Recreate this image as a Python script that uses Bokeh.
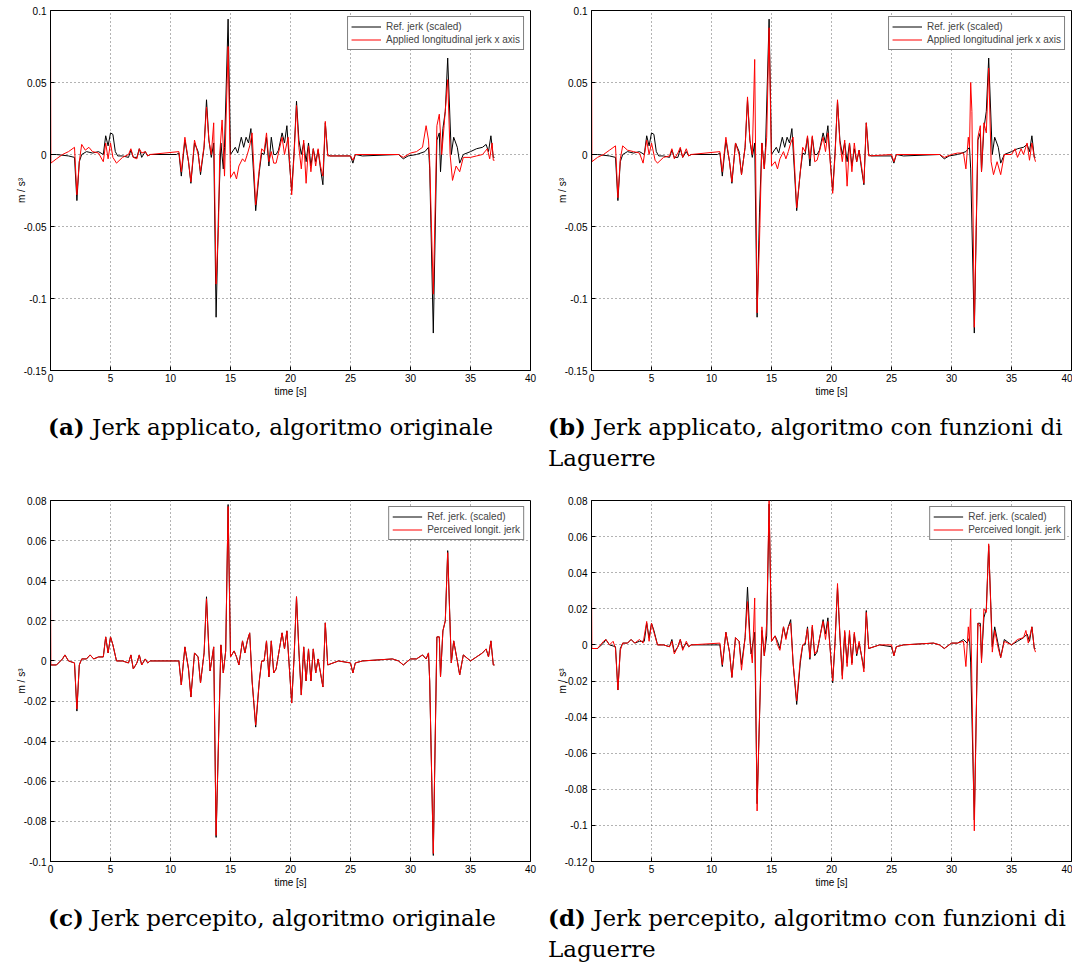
from bokeh.plotting import figure
from bokeh.models import Div, Legend, LegendItem, FixedTicker
from bokeh.layouts import column, row
from bokeh.embed import file_html
from bokeh.resources import INLINE

# ---------------- data (time [s], jerk [m/s^3]) ----------------
REF_TOP = [
    (0.0, 0.0), (0.5, 0.0), (1.5, -0.001), (2.0, -0.002), (2.2, -0.032), (2.4, -0.005), (2.6, 0.0),
    (3.0, 0.002), (3.5, 0.001), (4.0, 0.002), (4.4, 0.0), (4.6, 0.013), (4.8, 0.006), (5.0, 0.015),
    (5.2, 0.014), (5.4, 0.002), (5.6, -0.001), (6.0, -0.001), (6.5, -0.002), (6.7, 0.003), (6.9, -0.002),
    (7.2, -0.002), (7.4, 0.004), (7.6, -0.002), (7.9, 0.002), (8.1, -0.001), (8.3, 0.0), (10.5, 0.0),
    (10.7, 0.001), (10.9, -0.015), (11.2, 0.010), (11.5, -0.005), (11.7, -0.020), (12.0, 0.008),
    (12.3, 0.002), (12.5, -0.014), (12.8, 0.005), (13.0, 0.038), (13.2, 0.010), (13.4, -0.002),
    (13.6, 0.008), (13.8, -0.113), (14.0, -0.040), (14.2, 0.008), (14.4, -0.010), (14.5, 0.005),
    (14.8, 0.094), (15.0, 0.0), (15.4, 0.005), (15.6, 0.001), (15.9, 0.012), (16.1, 0.005), (16.3, 0.012),
    (16.5, 0.008), (16.7, 0.018), (16.9, -0.010), (17.1, -0.039), (17.4, -0.012), (17.6, 0.001),
    (17.8, 0.0), (18.0, 0.012), (18.2, -0.008), (18.4, 0.012), (18.6, 0.0), (18.8, 0.0), (19.0, 0.003),
    (19.3, 0.015), (19.5, 0.008), (19.7, 0.020), (19.9, -0.005), (20.1, -0.025), (20.3, 0.002),
    (20.5, 0.037), (20.7, 0.010), (20.9, 0.0), (21.1, 0.008), (21.3, -0.005), (21.5, 0.008),
    (21.7, -0.008), (21.9, 0.004), (22.1, -0.005), (22.3, 0.003), (22.5, -0.010), (22.7, -0.021),
    (22.9, 0.022), (23.1, 0.0), (23.3, -0.001), (25.0, -0.001), (25.2, -0.006), (25.4, 0.0),
    (26.0, -0.001), (29.0, 0.0), (29.4, -0.003), (29.8, -0.001), (30.5, 0.0), (31.2, 0.002),
    (31.5, 0.005), (31.6, -0.010), (31.9, -0.124), (32.2, 0.010), (32.4, 0.015), (32.5, -0.012),
    (32.7, 0.018), (32.9, 0.030), (33.1, 0.067), (33.4, 0.0), (33.6, 0.012), (33.9, 0.005),
    (34.1, -0.006), (34.4, 0.0), (35.0, 0.002), (35.5, 0.004), (36.0, 0.005), (36.3, 0.007),
    (36.5, 0.002), (36.7, 0.013), (36.9, -0.002), (37.0, -0.002),
]

APPLIED_ORIG = [
    (0.0, 0.082), (0.03, -0.006), (0.5, -0.003), (1.0, 0.0), (1.5, 0.002), (2.0, 0.005), (2.2, -0.028),
    (2.4, -0.005), (2.6, 0.007), (2.9, 0.003), (3.2, 0.005), (3.5, 0.002), (4.0, 0.001), (4.4, -0.005),
    (4.6, 0.008), (4.8, -0.003), (5.0, 0.008), (5.2, -0.002), (5.5, -0.006), (6.0, -0.002), (6.5, 0.0),
    (6.7, 0.004), (6.9, -0.002), (7.2, -0.003), (7.4, 0.004), (7.6, 0.001), (7.9, 0.002), (8.1, -0.001),
    (8.3, 0.0), (10.7, 0.002), (10.9, -0.012), (11.2, 0.012), (11.5, -0.005), (11.7, -0.019),
    (12.0, 0.010), (12.3, 0.0), (12.5, -0.012), (12.8, 0.006), (13.0, 0.033), (13.2, 0.010), (13.4, 0.0),
    (13.6, 0.022), (13.8, -0.090), (14.0, -0.050), (14.1, 0.0), (14.3, 0.024), (14.5, -0.015),
    (14.8, 0.075), (15.0, -0.016), (15.3, -0.012), (15.5, -0.017), (15.7, -0.008), (16.0, -0.003),
    (16.2, -0.005), (16.4, 0.0), (16.6, 0.006), (16.8, 0.015), (17.1, -0.035), (17.4, -0.010),
    (17.6, 0.004), (17.8, 0.002), (18.0, 0.015), (18.2, -0.005), (18.4, 0.002), (18.6, -0.006),
    (18.8, -0.006), (19.3, 0.012), (19.5, 0.0), (19.8, 0.012), (20.1, -0.028), (20.3, 0.0),
    (20.5, 0.034), (20.7, 0.005), (20.9, -0.010), (21.1, 0.010), (21.3, -0.020), (21.5, 0.006),
    (21.7, -0.012), (21.9, 0.004), (22.1, -0.008), (22.3, 0.004), (22.5, -0.008), (22.7, -0.015),
    (22.9, 0.023), (23.1, -0.001), (25.0, -0.001), (25.2, -0.004), (25.4, 0.0), (29.0, 0.0),
    (29.4, -0.002), (30.0, 0.001), (30.5, 0.002), (31.0, 0.005), (31.3, 0.020), (31.5, 0.010),
    (31.6, -0.005), (31.9, -0.097), (32.2, 0.020), (32.4, 0.028), (32.6, 0.0), (32.8, 0.020),
    (33.1, 0.052), (33.3, 0.0), (33.5, -0.018), (33.8, -0.008), (34.1, -0.012), (34.4, -0.002),
    (35.0, -0.002), (35.5, -0.001), (36.0, 0.0), (36.4, 0.004), (36.6, -0.003), (36.8, 0.008),
    (36.9, -0.004), (37.0, -0.004),
]

APPLIED_LAG = [
    (0.0, 0.085), (0.03, -0.005), (0.5, -0.002), (1.0, 0.0), (1.5, 0.003), (2.0, 0.006), (2.2, -0.030),
    (2.4, -0.003), (2.6, 0.006), (3.0, 0.003), (3.5, 0.002), (4.0, 0.001), (4.3, -0.006), (4.6, 0.010),
    (4.8, 0.0), (5.0, 0.008), (5.3, -0.004), (5.5, -0.006), (6.0, -0.002), (6.5, -0.001), (6.7, 0.004),
    (6.9, -0.003), (7.2, 0.001), (7.4, 0.005), (7.6, -0.002), (7.9, 0.004), (8.1, -0.001), (8.3, 0.0),
    (10.7, 0.002), (10.9, -0.012), (11.2, 0.012), (11.5, -0.005), (11.7, -0.019), (12.0, 0.008),
    (12.3, 0.0), (12.5, -0.014), (12.8, 0.005), (13.0, 0.040), (13.2, 0.010), (13.4, 0.0),
    (13.6, 0.066), (13.8, -0.110), (14.0, -0.060), (14.2, 0.008), (14.4, -0.010), (14.6, 0.012),
    (14.8, 0.088), (15.0, -0.008), (15.3, -0.005), (15.5, -0.010), (15.7, -0.003), (16.0, 0.002),
    (16.2, -0.003), (16.4, 0.002), (16.6, 0.008), (16.8, 0.012), (17.1, -0.037), (17.4, -0.012),
    (17.6, 0.005), (17.8, 0.002), (18.0, 0.013), (18.2, -0.003), (18.4, 0.013), (18.6, -0.005),
    (18.8, -0.004), (19.3, 0.012), (19.5, 0.002), (19.7, 0.015), (20.1, -0.027), (20.3, 0.0),
    (20.5, 0.038), (20.7, 0.008), (20.9, -0.005), (21.1, 0.010), (21.3, -0.022), (21.5, 0.008),
    (21.7, -0.012), (21.9, 0.008), (22.1, -0.005), (22.3, 0.003), (22.5, -0.008), (22.7, -0.020),
    (22.9, 0.022), (23.1, -0.001), (25.0, 0.0), (25.2, -0.005), (25.4, 0.0), (29.0, 0.0),
    (29.4, -0.002), (30.0, 0.0), (30.5, 0.001), (31.0, 0.001), (31.2, -0.010), (31.4, 0.012),
    (31.5, 0.005), (31.6, 0.050), (31.7, 0.030), (31.9, -0.120), (32.2, 0.012), (32.4, 0.020),
    (32.5, -0.012), (32.7, 0.022), (32.9, 0.015), (33.1, 0.060), (33.3, -0.005), (33.5, -0.014),
    (33.8, -0.005), (34.1, -0.014), (34.4, 0.0), (35.0, 0.0), (35.3, 0.004), (35.5, -0.002),
    (35.8, 0.004), (36.0, 0.0), (36.3, 0.008), (36.5, -0.004), (36.7, 0.008), (36.9, -0.002),
    (37.0, -0.005),
]

REF_BOTTOM = [
    (0.0, -0.002), (0.5, -0.002), (1.0, 0.001), (1.2, 0.003), (1.5, 0.0), (2.0, -0.001), (2.2, -0.025),
    (2.4, -0.002), (2.6, 0.001), (3.0, 0.001), (3.3, 0.003), (3.6, 0.001), (4.0, 0.002), (4.4, 0.002),
    (4.6, 0.012), (4.8, 0.004), (5.0, 0.012), (5.2, 0.008), (5.5, 0.0), (6.0, 0.0), (6.5, -0.001),
    (6.7, 0.003), (6.9, -0.004), (7.2, -0.001), (7.4, 0.003), (7.6, -0.002), (7.9, 0.001), (8.1, -0.001),
    (8.3, 0.0), (10.7, 0.0), (10.9, -0.012), (11.2, 0.007), (11.5, -0.004), (11.7, -0.018),
    (12.0, 0.004), (12.3, 0.002), (12.5, -0.011), (12.8, 0.004), (13.0, 0.032), (13.2, 0.005),
    (13.3, -0.005), (13.6, 0.007), (13.8, -0.088), (14.0, -0.040), (14.2, 0.008), (14.4, -0.006),
    (14.6, 0.005), (14.8, 0.078), (15.0, 0.002), (15.3, 0.005), (15.5, 0.002), (15.7, -0.002),
    (16.0, 0.010), (16.2, 0.004), (16.4, 0.010), (16.6, 0.014), (16.8, -0.010), (17.1, -0.033),
    (17.4, -0.010), (17.6, 0.0), (17.8, 0.0), (18.0, 0.010), (18.2, -0.008), (18.4, 0.010),
    (18.6, -0.006), (18.8, -0.004), (19.3, 0.014), (19.5, 0.006), (19.7, 0.015), (20.1, -0.021),
    (20.3, 0.002), (20.5, 0.032), (20.7, 0.005), (20.9, -0.017), (21.1, 0.007), (21.3, -0.010),
    (21.5, 0.006), (21.7, -0.010), (21.9, 0.006), (22.1, -0.006), (22.3, 0.001), (22.5, -0.006),
    (22.7, -0.013), (22.9, 0.019), (23.1, -0.002), (24.0, 0.0), (25.0, -0.001), (25.2, -0.006),
    (25.4, -0.001), (26.0, 0.0), (28.5, 0.001), (29.0, 0.0), (29.4, -0.002), (30.0, 0.001),
    (30.5, 0.001), (31.0, 0.003), (31.3, 0.001), (31.5, 0.004), (31.6, -0.010), (31.9, -0.097),
    (32.2, 0.012), (32.4, 0.012), (32.5, -0.008), (32.7, 0.015), (32.9, 0.020), (33.1, 0.055),
    (33.4, -0.001), (33.6, 0.010), (33.9, 0.0), (34.1, -0.007), (34.4, 0.003), (35.0, 0.0),
    (35.5, 0.002), (36.0, 0.004), (36.3, 0.006), (36.5, 0.002), (36.7, 0.010), (36.9, -0.002),
    (37.0, -0.002),
]

PERCEIVED_ORIG = [
    (0.0, 0.036), (0.03, -0.002), (0.5, -0.002), (1.0, 0.001), (1.2, 0.003), (1.5, 0.0), (2.0, -0.001),
    (2.2, -0.024), (2.4, -0.002), (2.6, 0.001), (3.0, 0.001), (3.3, 0.003), (3.6, 0.001), (4.0, 0.002),
    (4.4, 0.002), (4.6, 0.012), (4.8, 0.004), (5.0, 0.012), (5.2, 0.008), (5.5, 0.0), (6.0, 0.0),
    (6.5, -0.001), (6.7, 0.003), (6.9, -0.004), (7.2, -0.001), (7.4, 0.003), (7.6, -0.002), (7.9, 0.001),
    (8.1, -0.001), (8.3, 0.0), (10.7, 0.0), (10.9, -0.012), (11.2, 0.007), (11.5, -0.004),
    (11.7, -0.018), (12.0, 0.004), (12.3, 0.002), (12.5, -0.011), (12.8, 0.004), (13.0, 0.031),
    (13.2, 0.005), (13.3, -0.005), (13.6, 0.007), (13.8, -0.087), (14.0, -0.040), (14.2, 0.008),
    (14.4, -0.006), (14.6, 0.005), (14.8, 0.077), (15.0, 0.002), (15.3, 0.005), (15.5, 0.002),
    (15.7, -0.002), (16.0, 0.010), (16.2, 0.004), (16.4, 0.010), (16.6, 0.014), (16.8, -0.010),
    (17.1, -0.032), (17.4, -0.010), (17.6, 0.0), (17.8, 0.0), (18.0, 0.010), (18.2, -0.008),
    (18.4, 0.010), (18.6, -0.006), (18.8, -0.004), (19.3, 0.014), (19.5, 0.006), (19.7, 0.015),
    (20.1, -0.021), (20.3, 0.002), (20.5, 0.032), (20.7, 0.005), (20.9, -0.017), (21.1, 0.007),
    (21.3, -0.010), (21.5, 0.006), (21.7, -0.010), (21.9, 0.006), (22.1, -0.006), (22.3, 0.001),
    (22.5, -0.006), (22.7, -0.013), (22.9, 0.019), (23.1, -0.002), (24.0, 0.0), (25.0, -0.001),
    (25.2, -0.006), (25.4, -0.001), (26.0, 0.0), (28.5, 0.001), (29.0, 0.0), (29.4, -0.002),
    (30.0, 0.001), (30.5, 0.001), (31.0, 0.003), (31.3, 0.001), (31.5, 0.004), (31.6, -0.010),
    (31.9, -0.096), (32.2, 0.012), (32.4, 0.012), (32.5, -0.008), (32.7, 0.015), (32.9, 0.020),
    (33.1, 0.054), (33.4, -0.001), (33.6, 0.010), (33.9, 0.0), (34.1, -0.007), (34.4, 0.003),
    (35.0, 0.0), (35.5, 0.002), (36.0, 0.004), (36.3, 0.006), (36.5, 0.002), (36.7, 0.010),
    (36.9, -0.002), (37.0, -0.002),
]

PERCEIVED_LAG = [
    (0.0, 0.034), (0.03, -0.002), (0.5, -0.002), (1.0, 0.002), (1.2, 0.003), (1.5, 0.0), (1.8, 0.002),
    (2.0, -0.002), (2.2, -0.025), (2.4, -0.003), (2.6, 0.001), (3.0, 0.001), (3.3, 0.003), (3.6, 0.001),
    (4.0, 0.003), (4.3, 0.001), (4.6, 0.013), (4.8, 0.002), (5.0, 0.012), (5.2, 0.007), (5.5, 0.0),
    (6.0, 0.0), (6.5, -0.001), (6.7, 0.002), (6.9, -0.005), (7.2, -0.001), (7.4, 0.003), (7.6, -0.003),
    (7.9, 0.002), (8.1, -0.001), (8.3, 0.0), (10.7, 0.001), (10.9, -0.011), (11.2, 0.007),
    (11.5, -0.004), (11.7, -0.018), (12.0, 0.004), (12.3, 0.002), (12.5, -0.014), (12.8, 0.004),
    (13.0, 0.024), (13.2, 0.002), (13.4, -0.010), (13.6, 0.026), (13.8, -0.092), (14.0, -0.040),
    (14.2, 0.010), (14.4, -0.006), (14.6, 0.012), (14.8, 0.080), (15.0, 0.002), (15.3, 0.005),
    (15.5, 0.0), (15.7, -0.003), (16.0, 0.010), (16.2, 0.003), (16.4, 0.010), (16.6, 0.012),
    (16.8, -0.010), (17.1, -0.031), (17.4, -0.008), (17.6, 0.0), (17.8, 0.001), (18.0, 0.009),
    (18.2, -0.007), (18.4, 0.011), (18.6, -0.005), (18.8, -0.003), (19.3, 0.013), (19.5, 0.003),
    (19.7, 0.013), (20.1, -0.020), (20.3, 0.002), (20.5, 0.034), (20.7, 0.006), (20.9, -0.019),
    (21.1, 0.008), (21.3, -0.012), (21.5, 0.008), (21.7, -0.011), (21.9, 0.007), (22.1, -0.005),
    (22.3, 0.002), (22.5, -0.006), (22.7, -0.015), (22.9, 0.018), (23.1, -0.002), (24.0, 0.0),
    (25.0, 0.0), (25.2, -0.006), (25.4, -0.001), (26.0, 0.0), (28.5, 0.001), (29.0, 0.0),
    (29.4, -0.002), (30.0, 0.001), (30.5, 0.001), (31.0, 0.002), (31.2, -0.012), (31.4, 0.010),
    (31.5, 0.002), (31.6, 0.020), (31.9, -0.103), (32.2, 0.012), (32.4, 0.010), (32.5, -0.010),
    (32.7, 0.020), (32.9, 0.018), (33.1, 0.056), (33.4, -0.004), (33.6, 0.008), (33.9, -0.002),
    (34.1, -0.007), (34.4, 0.002), (35.0, 0.0), (35.5, 0.003), (36.0, 0.004), (36.2, 0.008),
    (36.4, 0.001), (36.7, 0.010), (36.9, -0.002), (37.0, -0.004),
]

X_TICKS = [0, 5, 10, 15, 20, 25, 30, 35, 40]
Y_TICKS_TOP = [-0.15, -0.1, -0.05, 0, 0.05, 0.1]
Y_LABELS_TOP = ["-0.15", "-0.1", "-0.05", "0", "0.05", "0.1"]
Y_TICKS_C = [-0.1, -0.08, -0.06, -0.04, -0.02, 0, 0.02, 0.04, 0.06, 0.08]
Y_LABELS_C = ["-0.1", "-0.08", "-0.06", "-0.04", "-0.02", "0", "0.02", "0.04", "0.06", "0.08"]
Y_TICKS_D = [-0.12, -0.1, -0.08, -0.06, -0.04, -0.02, 0, 0.02, 0.04, 0.06, 0.08]
Y_LABELS_D = ["-0.12", "-0.1", "-0.08", "-0.06", "-0.04", "-0.02", "0", "0.02", "0.04", "0.06", "0.08"]

LEG_TOP = ["Ref. jerk (scaled)", "Applied longitudinal jerk x axis"]
LEG_BOTTOM = ["Ref. jerk. (scaled)", "Perceived longit. jerk"]

CAP_A = "Jerk applicato, algoritmo originale"
CAP_B = "Jerk applicato, algoritmo con funzioni di"
CAP_C = "Jerk percepito, algoritmo originale"
CAP_D = "Jerk percepito, algoritmo con funzioni di"
CAP_CONT = "Laguerre"

FONT = "Liberation Sans"


def split(pairs):
    return [p[0] for p in pairs], [p[1] for p in pairs]


def panel(black, red, yr, yticks, ylabels, legend_labels, width, left, right, height, flen):
    p = figure(width=width, height=height, x_range=(0, 40), y_range=yr,
               output_backend="svg", toolbar_location=None,
               min_border_left=left, min_border_right=right, min_border_top=10,
               min_border_bottom=flen)
    p.background_fill_color = "white"
    p.border_fill_color = "white"
    p.outline_line_color = "black"
    p.outline_line_width = 1
    bx, by = split(black)
    rx, ry = split(red)
    r1 = p.line(bx, by, line_color="black", line_width=1)
    r2 = p.line(rx, ry, line_color="#ff0000", line_width=1)
    p.xaxis.ticker = FixedTicker(ticks=X_TICKS)
    p.yaxis.ticker = FixedTicker(ticks=yticks)
    p.yaxis.major_label_overrides = {float(t): l for t, l in zip(yticks, ylabels)}
    p.yaxis.major_label_overrides.update({0: "0"})
    for ax in (p.xaxis[0], p.yaxis[0]):
        ax.major_tick_in = 4
        ax.major_tick_out = 0
        ax.minor_tick_in = 0
        ax.minor_tick_out = 0
        ax.axis_line_color = "black"
        ax.major_tick_line_color = "black"
        ax.major_label_text_font = FONT
        ax.major_label_text_font_size = "10px"
        ax.major_label_text_color = "black"
        ax.axis_label_text_font = FONT
        ax.axis_label_text_font_size = "10px"
        ax.axis_label_text_font_style = "normal"
        ax.axis_label_text_color = "black"
    p.xaxis.major_label_standoff = 3
    p.xaxis.axis_label_standoff = 1
    p.yaxis.major_label_standoff = 4
    p.yaxis.axis_label_standoff = -6
    p.xaxis.axis_label = "time [s]"
    p.yaxis.axis_label = "m / s³"
    for g in (p.xgrid[0], p.ygrid[0]):
        g.grid_line_color = "#666666"
        g.grid_line_dash = "1 3"
        g.grid_line_width = 1
    p.xgrid.ticker = FixedTicker(ticks=X_TICKS)
    p.ygrid.ticker = FixedTicker(ticks=yticks)
    leg = Legend(items=[LegendItem(label=legend_labels[0], renderers=[r1]),
                        LegendItem(label=legend_labels[1], renderers=[r2])],
                 location="top_right")
    leg.margin = 6
    leg.padding = 3
    leg.spacing = 0
    leg.glyph_width = 30
    leg.glyph_height = 13
    leg.label_height = 13
    leg.label_standoff = 5
    leg.label_text_font = FONT
    leg.label_text_font_size = "10px"
    leg.border_line_color = "black"
    leg.border_line_width = 1
    leg.background_fill_alpha = 1
    p.add_layout(leg)
    return p


pa = panel(REF_TOP, APPLIED_ORIG, (-0.15, 0.1), Y_TICKS_TOP, Y_LABELS_TOP, LEG_TOP, 540, 50, 10, 400, 30)
pb = panel(REF_TOP, APPLIED_LAG, (-0.15, 0.1), Y_TICKS_TOP, Y_LABELS_TOP, LEG_TOP, 532, 51, 1, 400, 30)
pc = panel(REF_BOTTOM, PERCEIVED_ORIG, (-0.1, 0.08), Y_TICKS_C, Y_LABELS_C, LEG_BOTTOM, 540, 50, 10, 401, 30)
pd = panel(REF_BOTTOM, PERCEIVED_LAG, (-0.12, 0.08), Y_TICKS_D, Y_LABELS_D, LEG_BOTTOM, 532, 51, 1, 401, 30)

CAP_STYLE = "font-family:'DejaVu Serif';font-size:23px;line-height:31px;color:black;"


def caption_div(l1, t1, l2, t2, height, top):
    html = (
        f'<div style="position:relative;width:1072px;height:{height}px;overflow:hidden;{CAP_STYLE}">'
        f'<div style="position:absolute;left:48px;top:{top}px;white-space:nowrap;"><b>({l1})</b> {t1}</div>'
        f'<div style="position:absolute;left:548px;top:{top}px;white-space:nowrap;"><b>({l2})</b> {t2}<br>{CAP_CONT}</div>'
        f'</div>'
    )
    return Div(text=html, width=1072, height=height, margin=0, styles={"overflow": "hidden"})


cap1 = caption_div("a", CAP_A, "b", CAP_B, 90, 11)
cap2 = caption_div("c", CAP_C, "d", CAP_D, 74, 11)

layout = column(row(pa, pb), cap1, row(pc, pd), cap2)

open("out.html", "w").write(file_html(layout, INLINE))
